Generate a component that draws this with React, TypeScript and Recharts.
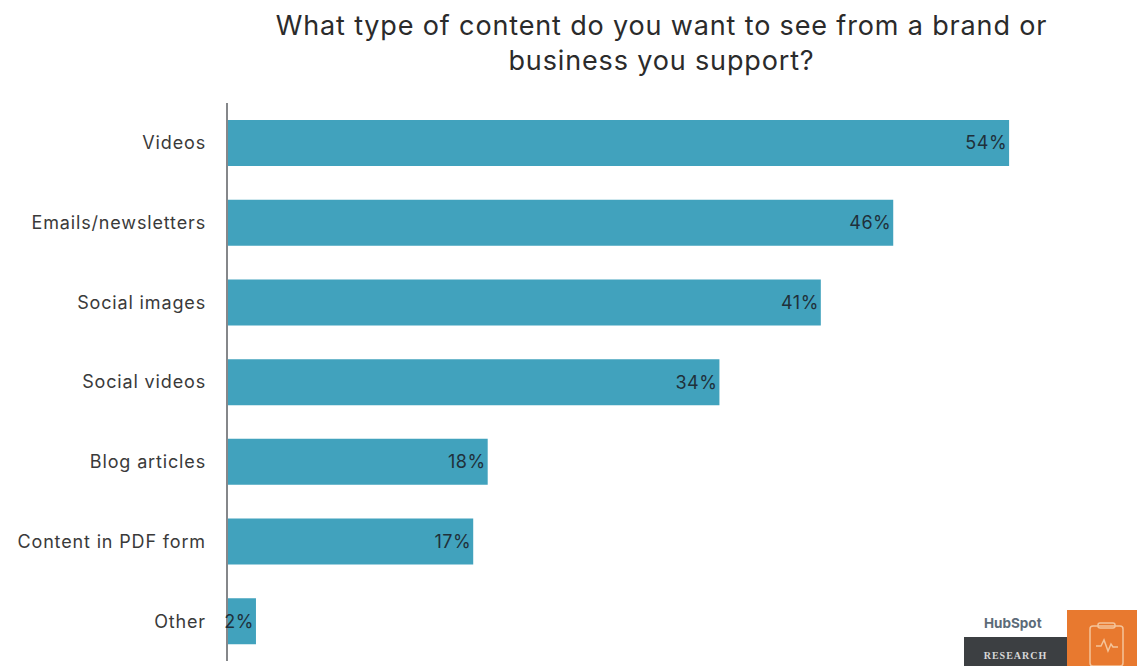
import { BarChart, Bar, XAxis, YAxis, LabelList, ReferenceLine } from "recharts";

const categories = [
  "Videos",
  "Emails/newsletters",
  "Social images",
  "Social videos",
  "Blog articles",
  "Content in PDF form",
  "Other",
];
const shares = [54, 46, 41, 34, 18, 17, 2];
const titleLines = [
  "What type of content do you want to see from a brand or",
  "business you support?",
];

const chartData = categories.map((name, i) => ({ name, share: shares[i] }));
const FONT = "Inter, Lato, sans-serif";

// Badge in the bottom right corner: wordmark, dark strip and clipboard tile
function ResearchBadge() {
  return (
    <>
      <div
        style={{
          position: "absolute",
          left: 984,
          top: 615,
          fontFamily: FONT,
          fontSize: 13.5,
          fontWeight: 700,
          color: "#5c6b78",
        }}
      >
        HubSpot
      </div>
      <div
        style={{
          position: "absolute",
          left: 964,
          top: 637,
          width: 103,
          height: 29,
          background: "#3c3f42",
          color: "#d8d8d8",
          fontFamily: "'Liberation Serif', serif",
          fontSize: 10,
          fontWeight: 700,
          letterSpacing: 1,
          textAlign: "center",
          lineHeight: "38px",
          overflow: "hidden",
        }}
      >
        RESEARCH
      </div>
      <div
        style={{
          position: "absolute",
          left: 1067,
          top: 610,
          width: 70,
          height: 56,
          background: "#e8792f",
        }}
      >
        <svg width={70} height={56} fill="none" stroke="#f4c49a" strokeWidth={1.5}>
          <rect x={23} y={16} width={33} height={40} rx={3} />
          <rect x={31} y={13} width={17} height={5} rx={2} />
          <path d="M29 36 h5 l3 -6 l4 11 l3 -7 l2 3 h5" />
        </svg>
      </div>
    </>
  );
}

export default function App() {
  return (
    <div
      style={{
        position: "absolute",
        left: 0,
        top: 0,
        width: 1137,
        height: 666,
        background: "#fff",
        overflow: "hidden",
      }}
    >
      <div
        style={{
          position: "absolute",
          left: 0,
          top: 8,
          width: 1323,
          textAlign: "center",
          fontFamily: FONT,
          fontSize: 27,
          lineHeight: "35px",
          letterSpacing: 0.85,
          color: "#2b2b2b",
        }}
      >
        {titleLines.map((line) => (
          <div key={line}>{line}</div>
        ))}
      </div>

      <BarChart
        width={1137}
        height={666}
        data={chartData}
        layout="vertical"
        margin={{ top: 103, right: 41, bottom: 5, left: 0 }}
        barCategoryGap={17}
      >
        <XAxis type="number" domain={[0, 60]} hide />
        <YAxis
          type="category"
          dataKey="name"
          width={227}
          axisLine={false}
          tickLine={false}
          tickMargin={21}
          tickSize={0}
          tick={{ fontFamily: FONT, fontSize: 18, letterSpacing: 0.85, fill: "#3a3a3a" }}
        />
        <Bar dataKey="share" fill="#41a2bd" isAnimationActive={false}>
          <LabelList
            dataKey="share"
            position="insideRight"
            offset={2}
            formatter={(v: number) => `${v}%`}
            style={{ fontFamily: FONT, fontSize: 18, letterSpacing: 0.5, fill: "#20303a" }}
          />
        </Bar>
        <ReferenceLine x={0} stroke="#85878a" strokeWidth={2} />
      </BarChart>

      <ResearchBadge />
    </div>
  );
}
